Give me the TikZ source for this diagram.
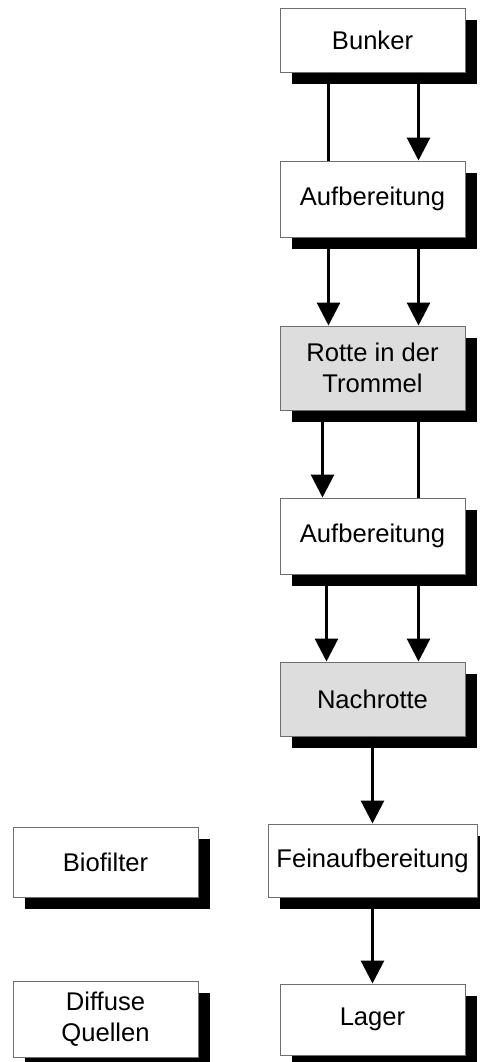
\documentclass[tikz,border=0pt]{standalone}
\usepackage{fontspec}
\setmainfont{Liberation Sans}
\usepackage{tikz}
\usetikzlibrary{arrows.meta,shadows}
\definecolor{rottegray}{RGB}{221,221,221}
\definecolor{edgegray}{RGB}{110,110,110}

\begin{document}
\begin{tikzpicture}[
        x=0.5pt,y=-0.5pt,
        stage/.style={draw=edgegray,line width=0.5pt,rectangle,fill=white,
                      minimum width=92.5pt,inner sep=0pt,align=center,
                      font=\fontsize{12.8}{15.5}\selectfont,
                      drop shadow={shadow xshift=6pt,shadow yshift=-6pt,
                                   fill=black,opacity=1}},
        rotte/.style={stage,fill=rottegray},
        flow/.style={draw,line width=1.5pt,
                     -{Triangle[width=11.5pt,length=11.5pt]}},
        wire/.style={draw,line width=1.5pt,-}
      ]
        \useasboundingbox (0,0) rectangle (480,1062);
        % main chain
        \node[stage,minimum height=32pt] (bunker) at (372.5,40){Bunker};
        \node[stage,minimum height=38pt] (aufb1) at (372.5,199){Aufbereitung};
        \node[rotte,minimum height=42pt] (trommel) at (372.5,368){Rotte in der\\Trommel};
        \node[stage,minimum height=38pt] (aufb2) at (372.5,536){Aufbereitung};
        \node[rotte,minimum height=37pt] (nachrotte) at (372.5,699){Nachrotte};
        \node[stage,minimum height=36.5pt,minimum width=104.5pt]
          (feinaufb) at (372.5,860.5){Feinaufbereitung};
        \node[stage,minimum height=35.5pt] (lager) at (372.5,1019.5){Lager};
        % side boxes
        \node[stage,minimum height=35pt] (biofilter) at (105.5,862){Biofilter};
        \node[stage,minimum height=38pt] (diffus) at (105.5,1019){Diffuse\\Quellen};
        % connectors
        \draw[wire]([xshift=-22pt]bunker.south)--([xshift=-22pt]aufb1.north);
        \draw[flow]([xshift=23pt]bunker.south)--([xshift=23pt]aufb1.north);
        \draw[flow]([xshift=-22pt]aufb1.south)--([xshift=-22pt]trommel.north);
        \draw[flow]([xshift=23pt]aufb1.south)--([xshift=23pt]trommel.north);
        \draw[flow]([xshift=-25pt]trommel.south)--([xshift=-25pt]aufb2.north);
        \draw[wire]([xshift=23pt]trommel.south)--([xshift=23pt]aufb2.north);
        \draw[flow]([xshift=-23pt]aufb2.south)--([xshift=-23pt]nachrotte.north);
        \draw[flow]([xshift=23pt]aufb2.south)--([xshift=23pt]nachrotte.north);
        \draw[flow](nachrotte.south)--(feinaufb.north);
        \draw[flow](feinaufb.south)--(lager.north);
      \end{tikzpicture}
\end{document}
